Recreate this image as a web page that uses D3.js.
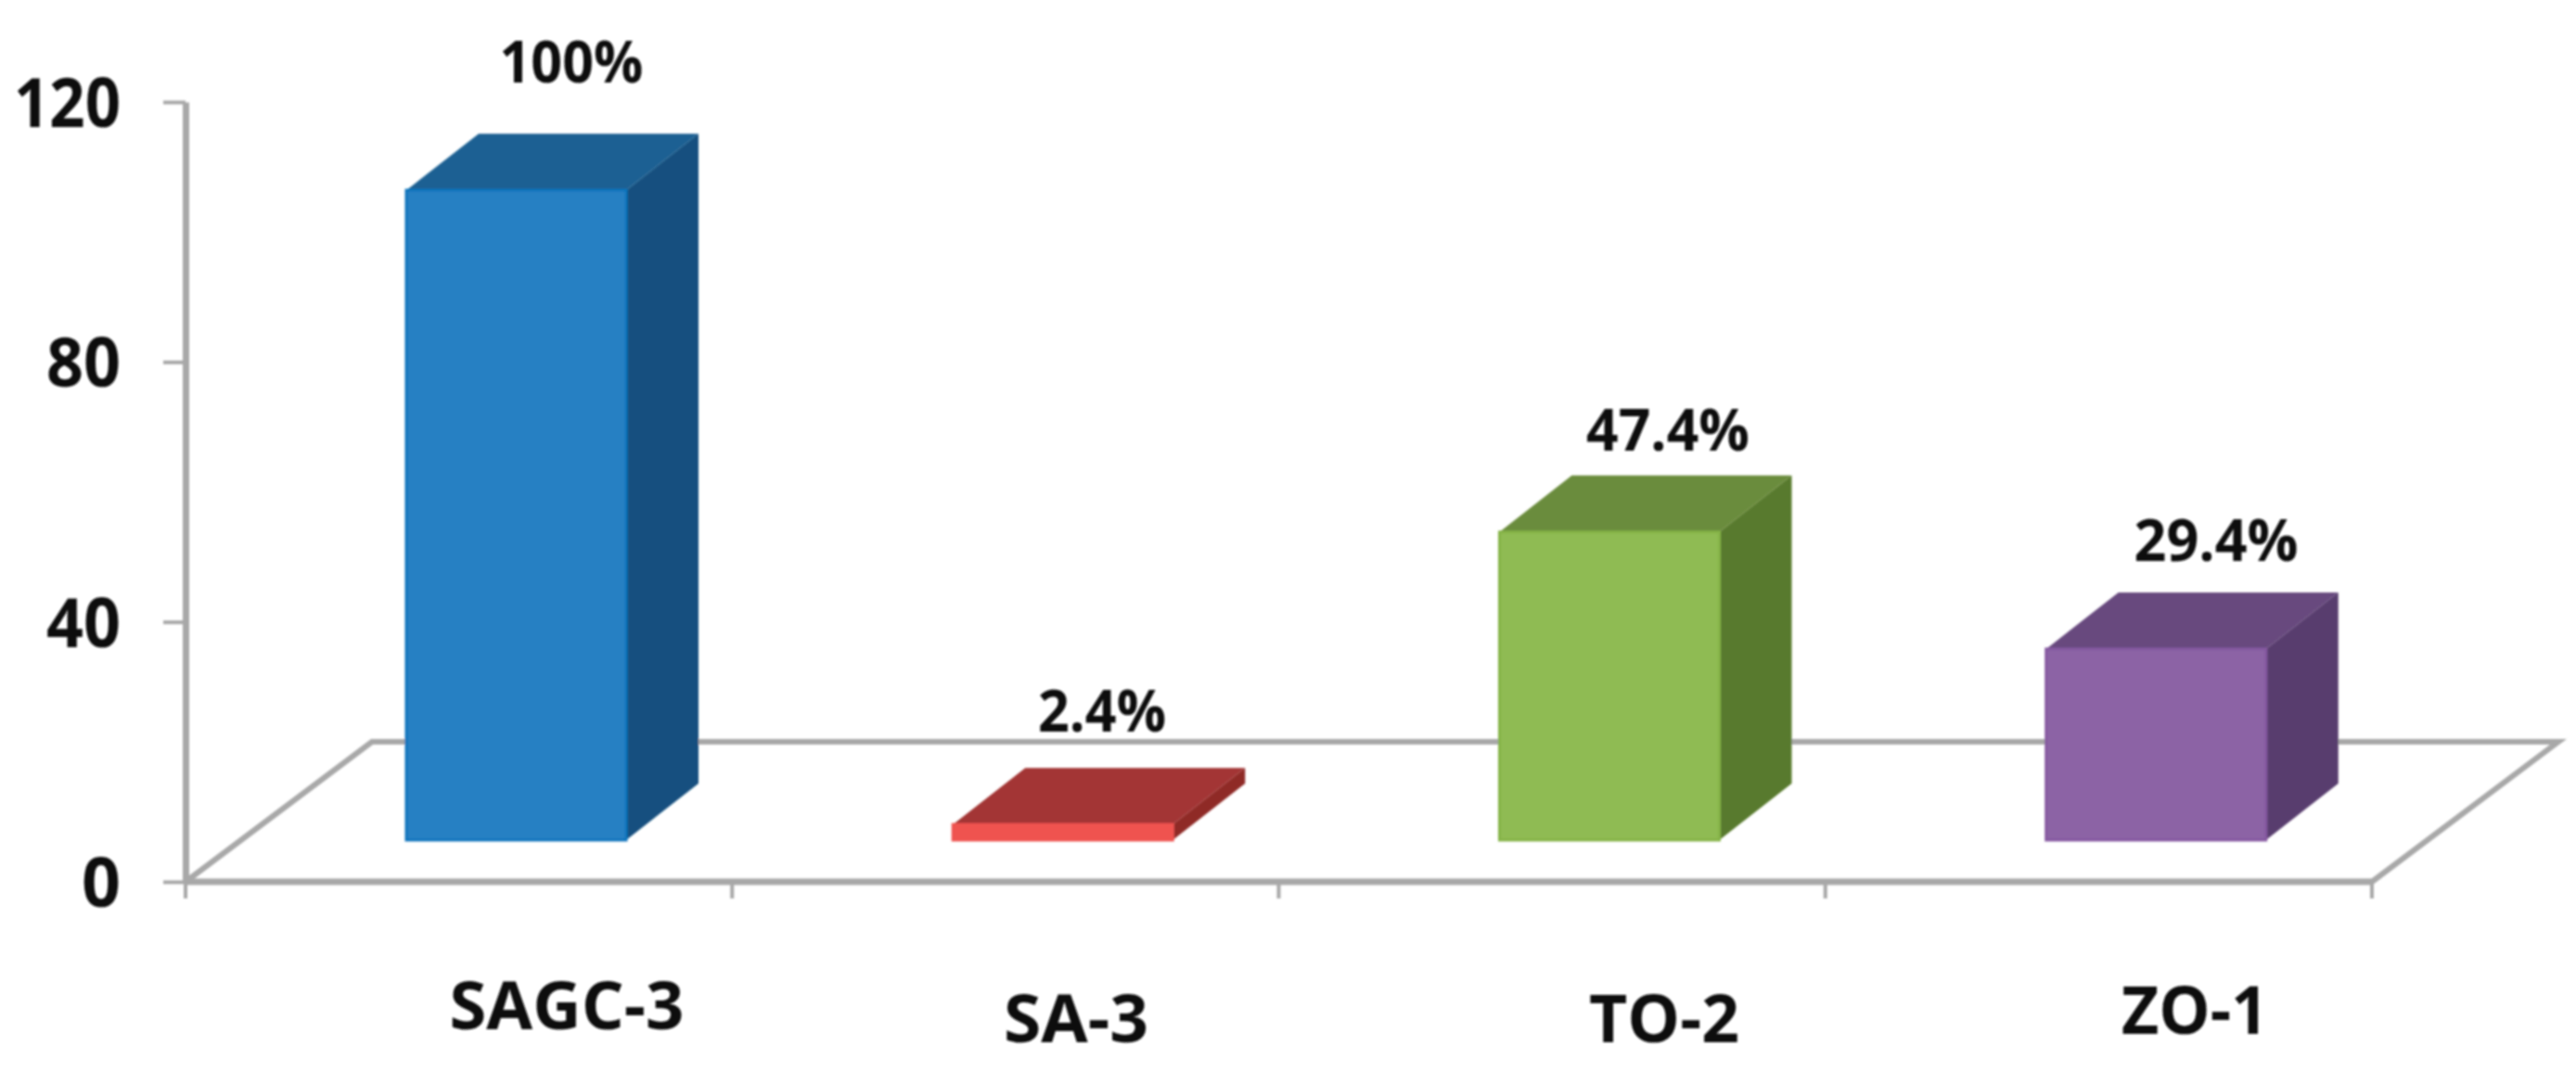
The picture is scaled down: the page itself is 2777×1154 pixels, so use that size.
<!DOCTYPE html>
<html><head><meta charset="utf-8">
<script src="https://cdn.jsdelivr.net/npm/d3@7"></script>
<style>html,body{margin:0;padding:0;background:#fff;overflow:hidden}svg{display:block}</style>
</head><body><div id="chart"></div>
<script>
const categories = ["SAGC-3", "SA-3", "TO-2", "ZO-1"];
const values = [100, 2.4, 47.4, 29.4];
const valueLabels = ["100%", "2.4%", "47.4%", "29.4%"];
const yTicks = [0, 40, 80, 120];

const W = 2777, H = 1154;
const svg = d3.select("#chart").append("svg").attr("width", W).attr("height", H);
const defs = svg.append("defs");
defs.append("filter").attr("id", "softer").append("feGaussianBlur").attr("stdDeviation", 1.1);

const x = d3.scaleBand().domain(categories).range([200, 2557]);
const y = d3.scaleLinear().domain([0, 120]).range([951, 110]);

const font = "'Open Sans', sans-serif";
const axisColor = "#a8a8a8";
const depth = {dx: 78, dy: 61};
const floor = {dx: 201, dy: 151};
const barOffset = {x: 238, y: -45};
const barWidth = 237;
const palette = [
  {front: "#2580c3", side: "#14507f", top: "#1b6093", edge: "#0f74bd"},
  {front: "#ef5350", side: "#8f2a28", top: "#a33634", edge: "#ef5350"},
  {front: "#8fbb52", side: "#587a2d", top: "#6b8c3c", edge: "#85b347"},
  {front: "#8c63a5", side: "#583d6e", top: "#674a7e", edge: "#8559a0"}
];

const base = svg.append("g").attr("filter", "url(#softer)");

// floor
const floorLine = d3.line();
base.append("path")
  .attr("d", floorLine([
    [x.range()[0], y(0)],
    [x.range()[0] + floor.dx, y(0) - floor.dy],
    [x.range()[1] + floor.dx, y(0) - floor.dy],
    [x.range()[1], y(0)]
  ]))
  .attr("fill", "none").attr("stroke", axisColor).attr("stroke-width", 6);

// y axis
const yAxis = base.append("g").attr("transform", `translate(${x.range()[0]},0)`)
  .call(d3.axisLeft(y).tickValues(yTicks).tickSize(24).tickSizeOuter(0).tickPadding(46));
yAxis.select(".domain").attr("stroke", axisColor).attr("stroke-width", 7);
yAxis.selectAll(".tick line").attr("stroke", axisColor).attr("stroke-width", 4);
yAxis.selectAll(".tick text").attr("fill", "#111")
  .attr("font-family", font).attr("font-weight", 700).attr("font-size", 74)
  .attr("dy", "0.36em")
  .attr("textLength", d => d === 120 ? 115 : d === 0 ? 42 : 80)
  .attr("lengthAdjust", "spacingAndGlyphs");

// x axis line and ticks at the band edges
base.append("line")
  .attr("x1", x.range()[0]).attr("x2", x.range()[1])
  .attr("y1", y(0)).attr("y2", y(0))
  .attr("stroke", axisColor).attr("stroke-width", 7);
base.selectAll(".xtick").data([...categories.map(c => x(c)), x.range()[1]]).join("line")
  .attr("class", "xtick")
  .attr("x1", d => d).attr("x2", d => d)
  .attr("y1", y(0)).attr("y2", y(0) + 18)
  .attr("stroke", axisColor).attr("stroke-width", 4);

// bars
const scaleUnit = y(0) - y(1);
const bars = base.selectAll(".bar").data(categories).join("g").attr("class", "bar");
bars.each(function (c, i) {
  const g = d3.select(this);
  const x0 = x(c) + barOffset.x;
  const x1 = x0 + barWidth;
  const yb = y(0) + barOffset.y;
  const yt = yb - values[i] * scaleUnit;
  const col = palette[i];
  g.append("path").attr("fill", col.side)
    .attr("d", floorLine([[x1, yb], [x1 + depth.dx, yb - depth.dy], [x1 + depth.dx, yt - depth.dy], [x1, yt]]) + "Z");
  g.append("path").attr("fill", col.top)
    .attr("d", floorLine([[x0, yt], [x0 + depth.dx, yt - depth.dy], [x1 + depth.dx, yt - depth.dy], [x1, yt]]) + "Z");
  g.append("rect").attr("fill", col.front)
    .attr("stroke", col.edge).attr("stroke-width", 3)
    .attr("x", x0).attr("y", yt).attr("width", barWidth).attr("height", yb - yt);
});

// category labels
const catLayout = [
  {cx: 611, cy: 1084, w: 253},
  {cx: 1160, cy: 1098, w: 156},
  {cx: 1794, cy: 1098, w: 162},
  {cx: 2366, cy: 1089, w: 158}
];
const text = svg.append("g").attr("filter", "url(#softer)");
text.selectAll(".cat").data(categories).join("text")
  .attr("class", "cat")
  .attr("x", (d, i) => catLayout[i].cx).attr("y", (d, i) => catLayout[i].cy)
  .attr("dy", "0.36em").attr("text-anchor", "middle")
  .attr("font-family", font).attr("font-weight", 700).attr("font-size", 72).attr("fill", "#111")
  .attr("textLength", (d, i) => catLayout[i].w).attr("lengthAdjust", "spacingAndGlyphs")
  .text(d => d);

// value labels
const valLayout = [
  {cx: 616, cy: 67, w: 155},
  {cx: 1188, cy: 767, w: 138},
  {cx: 1798, cy: 464, w: 176},
  {cx: 2389, cy: 583, w: 177}
];
text.selectAll(".val").data(valueLabels).join("text")
  .attr("class", "val")
  .attr("x", (d, i) => valLayout[i].cx).attr("y", (d, i) => valLayout[i].cy)
  .attr("dy", "0.36em").attr("text-anchor", "middle")
  .attr("font-family", font).attr("font-weight", 700).attr("font-size", 62).attr("fill", "#111")
  .attr("textLength", (d, i) => valLayout[i].w).attr("lengthAdjust", "spacingAndGlyphs")
  .text(d => d);
</script></body></html>
